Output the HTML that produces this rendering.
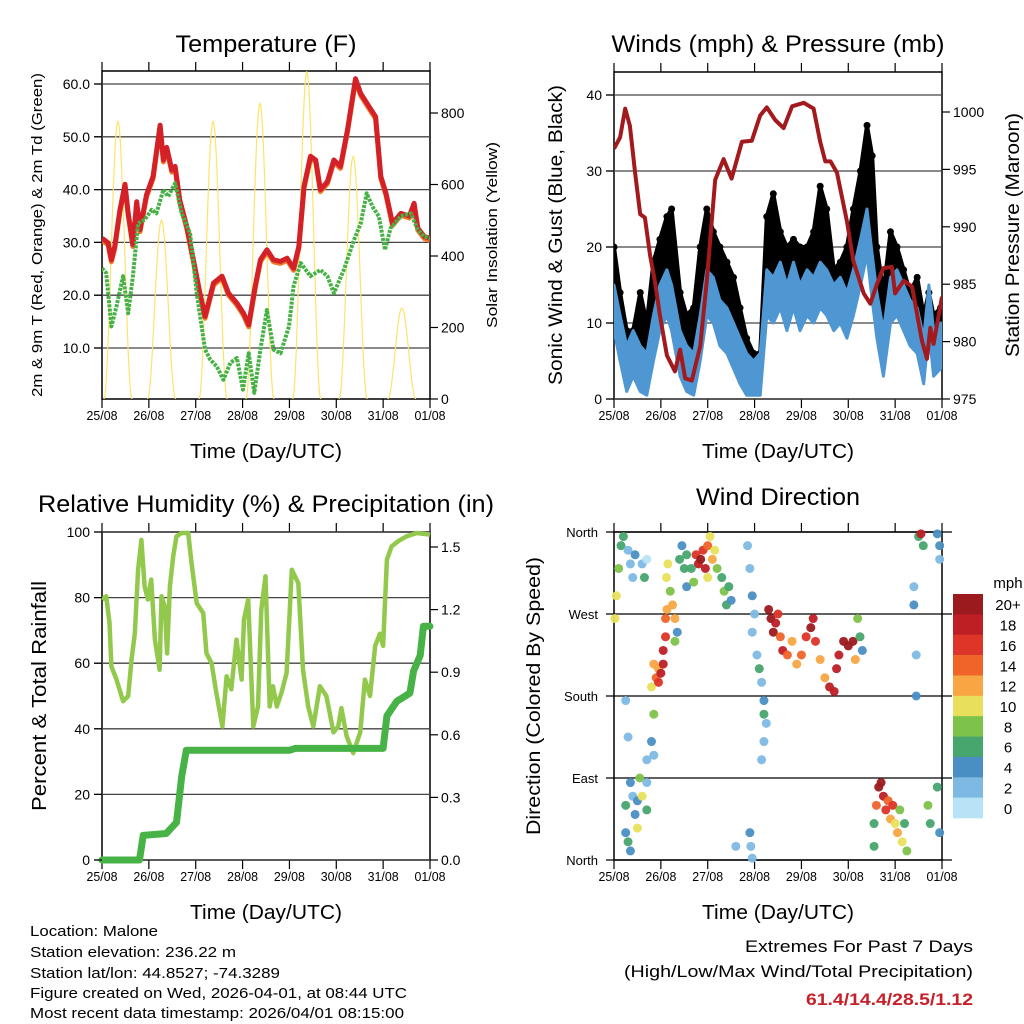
<!DOCTYPE html>
<html><head><meta charset="utf-8"><style>
html,body{margin:0;padding:0;background:#fff}
svg{display:block;font-family:"Liberation Sans",Arial,sans-serif}
</style></head><body>
<svg id="c" width="1024" height="1024" viewBox="0 0 1024 1024">
<rect width="1024" height="1024" fill="#fff"/>
<g id="layer"></g>
<text x="266" y="52" font-size="24" text-anchor="middle" textLength="181" lengthAdjust="spacingAndGlyphs">Temperature (F)</text>
<text x="778" y="52" font-size="24" text-anchor="middle" textLength="333" lengthAdjust="spacingAndGlyphs">Winds (mph) &amp; Pressure (mb)</text>
<text x="266" y="512" font-size="24" text-anchor="middle" textLength="456" lengthAdjust="spacingAndGlyphs">Relative Humidity (%) &amp; Precipitation (in)</text>
<text x="778" y="505" font-size="24" text-anchor="middle" textLength="164" lengthAdjust="spacingAndGlyphs">Wind Direction</text>
<g font-size="15">
<text x="30" y="936" textLength="128" lengthAdjust="spacingAndGlyphs">Location: Malone</text>
<text x="30" y="957" textLength="206" lengthAdjust="spacingAndGlyphs">Station elevation: 236.22 m</text>
<text x="30" y="978" textLength="250" lengthAdjust="spacingAndGlyphs">Station lat/lon: 44.8527; -74.3289</text>
<text x="30" y="998" textLength="377" lengthAdjust="spacingAndGlyphs">Figure created on Wed, 2026-04-01, at 08:44 UTC</text>
<text x="30" y="1018" textLength="374" lengthAdjust="spacingAndGlyphs">Most recent data timestamp: 2026/04/01 08:15:00</text>
</g>
<text x="973" y="952" font-size="17" text-anchor="end" textLength="228" lengthAdjust="spacingAndGlyphs">Extremes For Past 7 Days</text>
<text x="973" y="977" font-size="17" text-anchor="end" textLength="349" lengthAdjust="spacingAndGlyphs">(High/Low/Max Wind/Total Precipitation)</text>
<text x="973" y="1005" font-size="17" font-weight="bold" fill="#c8202a" text-anchor="end" textLength="167" lengthAdjust="spacingAndGlyphs">61.4/14.4/28.5/1.12</text>
</svg>
<script>
// ---------- data ----------
const dayLabels=["25/08","26/08","27/08","28/08","29/08","30/08","31/08","01/08"];
const tempDays=[0,.13,.2,.27,.38,.49,.56,.66,.74,.81,.95,1.09,1.24,1.31,1.38,1.49,1.56,1.66,1.81,1.95,2.09,2.2,2.38,2.56,2.7,2.88,3.02,3.13,3.27,3.38,3.52,3.66,3.81,3.95,4.09,4.2,4.31,4.45,4.56,4.66,4.81,4.95,5.09,5.24,5.41,5.52,5.7,5.84,5.95,6.06,6.2,6.38,6.56,6.66,6.74,6.88,7];
const tempValues=[30.8,29.9,26.7,29.2,36,41,35.5,29.6,37.7,32.4,39,42.5,52.2,45.6,48,43.7,44.4,38,33,26.7,20.4,16,22.3,23.6,20.4,18.5,16.6,14.4,21.7,26.7,28.6,26.7,26.4,27,25.1,29.2,40.6,46.3,45.6,40,41.5,45.6,44.4,51.3,61,58.2,55.7,53.8,42.5,39.3,33.6,35.5,35,37.4,32.7,31.1,30.8];
const dewDays=[0,.09,.2,.31,.45,.56,.66,.77,.91,1.06,1.16,1.31,1.41,1.56,1.7,1.88,2.02,2.2,2.31,2.45,2.59,2.74,2.88,3.01,3.13,3.25,3.38,3.52,3.66,3.81,3.99,4.09,4.24,4.45,4.66,4.81,4.95,5.16,5.38,5.52,5.65,5.77,5.91,6.04,6.16,6.38,6.59,6.74,6.88,7];
const dewValues=[25.1,24.2,14.1,17.9,23.6,16.6,23.6,33.6,34.3,36.2,35.5,40,38.7,41.2,35.5,31.7,20.4,9.7,7.8,6.5,4,7.2,8.1,2.1,9,1.5,9.7,17.2,9.7,9,14.1,21.7,26.1,23.6,24.8,23.6,20.4,24.8,30.5,33.6,39.3,36.8,34.9,28.6,32.7,35,35.5,32.4,31.1,30.8];
const solarPeakDays=[.34,1.27,2.37,3.37,4.37,5.36,6.4];
const solarPeakValues=[776,500,776,827,915,678,254];
const tempTicks=[10,20,30,40,50,60];
const solarTicks=[0,200,400,600,800];

const windDays=[0,.13,.27,.41,.56,.7,.84,.98,1.13,1.23,1.41,1.55,1.7,1.84,1.98,2.12,2.26,2.41,2.55,2.69,2.83,2.98,3.12,3.26,3.4,3.55,3.69,3.83,3.97,4.12,4.26,4.4,4.54,4.69,4.83,4.97,5.11,5.26,5.4,5.51,5.61,5.75,5.9,6.04,6.18,6.32,6.47,6.61,6.72,6.82,6.97];
const windValues=[12,8,4,6,4,3,8,12,14,12,6,4,3,8,14,13,10,9,7,5,3,2,3,14,13,15,12,15,12,14,13,15,14,12,13,11,14,18,22,16,11,6,13,14,12,10,9,5,12,6,7];
const gustValues=[20,14,9,9,14,10,18,21,24,25,14,11,12,20,25,22,20,18,16,12,8,6,6,24,27,22,20,21,20,20,22,28,25,17,18,20,25,30,36,32,20,14,22,20,17,14,16,11,14,11,12];
const pressDays=[0,.13,.24,.34,.45,.56,.66,.77,.88,.98,1.13,1.3,1.41,1.52,1.66,1.84,1.98,2.16,2.34,2.51,2.73,2.94,3.12,3.26,3.44,3.62,3.8,4.05,4.26,4.4,4.51,4.62,4.76,4.97,5.11,5.33,5.47,5.61,5.75,5.93,6,6.18,6.36,6.57,6.68,6.75,6.82,7];
const pressValues=[996.8,997.8,1000.3,998.8,994.7,991.1,990.8,987.5,985.1,982.3,978.8,977.4,979.3,976.8,976.6,979.6,985.3,994.1,995.9,994.2,997.4,997.5,999.7,1000.4,999.3,998.6,1000.5,1000.8,1000.3,997.4,995.7,995.7,994.7,990.5,987,984.2,983.3,985,986.4,986.5,984.2,985.3,984.8,980.1,978.5,981.2,979.8,983.9];
const windTicks=[0,10,20,30,40];
const pressTicks=[975,980,985,990,995,1000];

const rhDays=[0,.09,.16,.2,.31,.45,.56,.63,.7,.77,.84,.91,.98,1.05,1.13,1.23,1.27,1.34,1.39,1.45,1.52,1.59,1.7,1.84,1.91,2.02,2.16,2.23,2.34,2.44,2.57,2.66,2.76,2.87,2.98,3.03,3.12,3.23,3.33,3.4,3.49,3.58,3.65,3.73,3.83,3.94,4.05,4.19,4.29,4.4,4.51,4.65,4.79,4.94,5.04,5.11,5.22,5.36,5.51,5.61,5.72,5.83,5.93,6,6.08,6.18,6.32,6.5,6.72,7];
const rhValues=[79.4,80.4,72.3,59,55,48.4,50,61,69,88.5,97.6,83.4,79.4,85.5,67.2,58,80.4,77.3,63,83.4,92.6,98.7,99.7,99.7,90.6,78.3,75.3,63,60,51,40.7,56,52,67.2,55,73.3,79.4,40.7,46.8,76.3,86.5,46.8,53,46.8,51,57,88.5,84.4,58,46.8,40.7,53,50,38.9,40.7,46.3,37.8,32.6,38.9,55,50,65.3,69,65.3,91.6,95.6,97.2,98.7,99.7,99.2];
const rainDays=[0,.8,.88,1.37,1.59,1.7,1.8,4.01,4.12,6,6.08,6.29,6.57,6.65,6.79,6.86,7];
const rainValues=[0,0,.118,.127,.18,.4,.526,.526,.535,.535,.69,.76,.8,.906,.98,1.12,1.12];
const rhTicks=[0,20,40,60,80,100];
const rainTicks=["0.0","0.3","0.6","0.9","1.2","1.5"];

const dirDays=[.02,.05,.1,.15,.2,.3,.35,.4,.45,.6,.65,.7,.25,.25,.35,.4,.45,.5,.5,.55,.6,.7,.7,.35,.3,.25,.3,.85,.7,
.8,.85,.8,.85,.9,.95,.95,1,1.05,1.05,1.1,1.1,1.13,1.12,1.15,1.2,1.25,1.3,1.3,1.35,1.4,1.45,1.5,1.55,1.55,
1.75,1.8,1.85,1.9,1.95,2,2.05,2.1,2.15,2.2,2.3,2.35,2.4,2.45,2.5,1.65,1.7,2,
2.85,2.9,2.95,3,2.95,3.05,3.1,3.15,3.2,3.2,3.25,3.2,3.15,2.9,2.92,2.95,2.6,
3.3,3.35,3.4,3.45,3.5,3.55,3.6,3.7,3.8,3.9,4,4.1,4.2,4.25,4.3,4.4,4.5,4.6,4.7,4.75,4.8,4.9,5,5.1,5.15,5.2,5.25,5.3,
5.6,5.65,5.7,5.75,5.8,5.85,5.9,5.95,6,6.05,6.1,6.15,6.2,6.25,5.55,5.55,
6.4,6.4,6.45,6.45,6.5,6.55,6.6,6.7,6.75,6.9,6.95,6.95,6.9,6.95];
const dirValues=[265,290,320,345,355,340,325,310,335,325,310,330,30,60,85,70,50,35,65,90,70,85,55,10,20,175,135,115,110,
130,160,190,215,200,195,210,205,215,230,245,265,275,310,325,295,280,265,240,250,330,345,320,300,335,
335,325,330,340,320,345,355,330,340,320,310,295,280,300,285,320,305,310,
345,320,290,270,250,225,210,195,175,160,150,130,110,30,15,2,15,
275,265,250,260,270,245,230,225,240,215,225,245,255,265,240,220,200,190,185,210,225,240,235,240,220,265,245,230,
60,80,85,70,55,65,45,60,40,30,55,20,40,10,40,15,
300,280,225,180,355,358,345,60,40,358,345,330,80,30];
const dirSpeeds=[11,10,8,7,6,3,3,3,4,3,6,1,4,6,4,3,5,11,4,8,10,3,7,4,6,2,2,3,2,
4,8,10,12,14,16,12,18,18,18,16,14,12,10,10,8,12,12,8,4,6,4,6,5,7,
16,18,20,16,18,14,10,12,10,8,7,8,6,6,4,6,9,10,
3,3,4,3,2,2,6,3,4,6,2,3,2,4,2,3,3,
20,20,20,18,16,14,18,14,12,12,14,16,20,18,16,12,12,18,18,18,18,20,20,20,12,8,6,4,
14,20,20,18,16,14,12,16,10,12,8,10,6,8,6,6,
2,4,2,4,6,18,6,8,6,4,4,2,6,4];
const dirLabels=["North","East","South","West","North"];
const speedLabels=["20+","18","16","14","12","10","8","6","4","2","0"];
const speedColors=["#9b1a1e","#bd1f25","#dd3528","#f06429","#f7a643","#e8e05a","#7dc24b","#47a56e","#4a8fc4","#7eb9e3","#b8e2f6"];

// ---------- helpers ----------
const NS="http://www.w3.org/2000/svg";
const layer=document.getElementById('layer');
function mk(tag,attrs,parent){const e=document.createElementNS(NS,tag);for(const k in attrs)e.setAttribute(k,attrs[k]);(parent||layer).appendChild(e);return e;}
function txt(s,attrs,parent){const e=mk('text',attrs,parent);e.textContent=s;return e;}
function pathFrom(xs,ys){return xs.map((x,i)=>(i?'L':'M')+x.toFixed(1)+' '+ys[i].toFixed(1)).join('');}

function frame(L,R,T,B,name){
  const g=mk('g',{});
  
  
  mk('rect',{x:L,y:T,width:R-L,height:B-T,fill:'none',stroke:'#000','stroke-width':1.5},g);
  for(let i=0;i<=7;i++){
    const x=L+i*(R-L)/7;
    mk('line',{x1:x,x2:x,y1:T-9,y2:T,stroke:'#000','stroke-width':1.2},g);
    mk('line',{x1:x,x2:x,y1:B,y2:B+9,stroke:'#000','stroke-width':1.2},g);
    const t=txt(dayLabels[i],{x:x,y:B+21,'font-size':13,'text-anchor':'middle',textLength:31,lengthAdjust:'spacingAndGlyphs'},g);
    
    
  }
  const xt=txt('Time (Day/UTC)',{x:(L+R)/2,y:B+59,'font-size':20,'text-anchor':'middle',textLength:152,lengthAdjust:'spacingAndGlyphs'},g);
  
  
  return g;
}
function gridY(g,L,R,y){
  mk('line',{x1:L-8,x2:R,y1:y,y2:y,stroke:'#444','stroke-width':1.3},g);
}
function leftTicks(g,L,ys,labels,fs){
  ys.forEach((y,i)=>{
    mk('line',{x1:L-8,x2:L,y1:y,y2:y,stroke:'#000','stroke-width':1.2},g);
    const t=txt(labels[i],{x:L-12,y:y+5,'font-size':fs||14,'text-anchor':'end'},g);
    
    
  });
}
function rightTicks(g,R,ys,labels){
  ys.forEach((y,i)=>{
    mk('line',{x1:R,x2:R+8,y1:y,y2:y,stroke:'#000','stroke-width':1.2},g);
    const t=txt(labels[i],{x:R+11,y:y+5,'font-size':14,'text-anchor':'start'},g);
    
    
  });
}
function vtitle(g,s,x,y,fs,len,name){
  const t=txt(s,{x:0,y:0,'font-size':fs,'text-anchor':'middle',transform:`translate(${x},${y}) rotate(-90)`,textLength:len,lengthAdjust:'spacingAndGlyphs'},g);
  
  
}

// ---------- Panel 1: temperature ----------
(function(){
  const L=102,R=430,T=71,B=399;
  const x=d=>L+d/7*(R-L);
  const yT=v=>348-(v-10)*5.28;
  const yS=v=>B-v*0.3575;
  const clip=mk('clipPath',{id:'c1'});mk('rect',{x:L,y:T,width:R-L,height:B-T},clip);
  const g=frame(L,R,T,B,'temperature');
  tempTicks.forEach(v=>gridY(g,L,R,yT(v)));
  const d=mk('g',{'clip-path':'url(#c1)'},g);
  solarPeakDays.forEach((pd,i)=>{
    const xs=[],ys=[];
    for(let k=0;k<=40;k++){const dd=pd-0.3+k*0.015;const s=Math.cos((dd-pd)/0.3*Math.PI/2);xs.push(x(dd));ys.push(yS(solarPeakValues[i]*s*s));}
    const p=mk('path',{d:pathFrom(xs,ys),fill:'none',stroke:'#fde36a','stroke-width':1.2},d);
    
    
  });
  const xsT=tempDays.map(x),ysT=tempValues.map(yT);
  const o=mk('path',{d:pathFrom(xsT,ysT.map(v=>v+2)),fill:'none',stroke:'#f07a2a','stroke-width':5,'stroke-linejoin':'round'},d);
  
  
  const r=mk('path',{d:pathFrom(xsT,ysT),fill:'none',stroke:'#d42027','stroke-width':5,'stroke-linejoin':'round'},d);
  
  
  const gr=mk('path',{d:pathFrom(dewDays.map(x),dewValues.map(yT)),fill:'none',stroke:'#46b246','stroke-width':4,'stroke-dasharray':'3 1.2','stroke-linejoin':'round'},d);
  
  
  leftTicks(g,L,tempTicks.map(yT),tempTicks.map(v=>v.toFixed(1)),14);
  rightTicks(g,R,solarTicks.map(yS),solarTicks.map(String));
  vtitle(g,'2m & 9m T (Red, Orange) & 2m Td (Green)',42,235,15,324,'temperature-y-axis-title');
  vtitle(g,'Solar Insolation (Yellow)',497,235,15,186,'solar-y-axis-title');
})();

// ---------- Panel 2: winds ----------
(function(){
  const L=614,R=942,T=72,B=399;
  const x=d=>L+d/7*(R-L);
  const yW=v=>B-v*7.6;
  const yP=v=>B-(v-975)*11.48;
  const clip=mk('clipPath',{id:'c2'});mk('rect',{x:L,y:T,width:R-L,height:B-T},clip);
  const g=frame(L,R,T,B,'winds');
  windTicks.forEach(v=>gridY(g,L,R,yW(v)));
  const d=mk('g',{'clip-path':'url(#c2)'},g);
  const xs=windDays.map(x);
  const gustTop=gustValues.map(yW), windMid=windValues.map(yW);
  const area='M'+xs.map((xx,i)=>xx.toFixed(1)+' '+gustTop[i].toFixed(1)).join('L')+'L'+xs.slice().reverse().map((xx,j)=>{const i=xs.length-1-j;return xx.toFixed(1)+' '+windMid[i].toFixed(1);}).join('L')+'Z';
  const ga=mk('path',{d:area,fill:'#000',stroke:'#000','stroke-width':4,'stroke-linejoin':'round'},d);
  
  
  gustValues.forEach((v,i)=>{const c=mk('circle',{cx:xs[i],cy:yW(v),r:3.5,fill:'#000'},d);
    
    });
  const bandTop=windValues.map(v=>yW(v+3)),bandBot=windValues.map(v=>yW(Math.max(v-3,0.5)));
  const band='M'+xs.map((xx,i)=>xx.toFixed(1)+' '+bandTop[i].toFixed(1)).join('L')+'L'+xs.slice().reverse().map((xx,j)=>{const i=xs.length-1-j;return xx.toFixed(1)+' '+bandBot[i].toFixed(1);}).join('L')+'Z';
  const wb=mk('path',{d:band,fill:'#4f97d2',stroke:'#4f97d2','stroke-width':3,'stroke-linejoin':'round'},d);
  
  
  const p=mk('path',{d:pathFrom(pressDays.map(x),pressValues.map(yP)),fill:'none',stroke:'#a31a1e','stroke-width':4,'stroke-linejoin':'round'},d);
  
  
  leftTicks(g,L,windTicks.map(yW),windTicks.map(String),14);
  rightTicks(g,R,pressTicks.map(yP),pressTicks.map(String));
  vtitle(g,'Sonic Wind & Gust (Blue, Black)',562,235,19,300,'wind-y-axis-title');
  vtitle(g,'Station Pressure (Maroon)',1019,235,19,244,'pressure-y-axis-title');
})();

// ---------- Panel 3: humidity ----------
(function(){
  const L=102,R=430,T=532,B=860;
  const x=d=>L+d/7*(R-L);
  const yR=v=>B-v*3.28;
  const yP=v=>B-v/0.3*62.6;
  const clip=mk('clipPath',{id:'c3'});mk('rect',{x:L-8,y:T-6,width:R-L+16,height:B-T+14},clip);
  const g=frame(L,R,T,B,'humidity');
  rhTicks.forEach(v=>gridY(g,L,R,yR(v)));
  const d=mk('g',{'clip-path':'url(#c3)'},g);
  const rh=mk('path',{d:pathFrom(rhDays.map(x),rhValues.map(yR)),fill:'none',stroke:'#92c94d','stroke-width':4.5,'stroke-linejoin':'round'},d);
  
  
  const pr=mk('path',{d:pathFrom(rainDays.map(x),rainValues.map(yP)),fill:'none',stroke:'#47b347','stroke-width':7,'stroke-linejoin':'round','stroke-linecap':'round'},d);
  
  
  leftTicks(g,L,rhTicks.map(yR),rhTicks.map(String),14);
  rightTicks(g,R,rainTicks.map(v=>yP(parseFloat(v))),rainTicks);
  vtitle(g,'Percent & Total Rainfall',46,696,20,230,'humidity-y-axis-title');
})();

// ---------- Panel 4: wind direction ----------
(function(){
  const L=614,R=942,T=532,B=860;
  const x=d=>L+d/7*(R-L);
  const yD=v=>B-v/360*(B-T);
  const g=frame(L,R,T,B,'wind-direction');
  [0,90,180,270,360].forEach(v=>mk('line',{x1:L-8,x2:R+10,y1:yD(v),y2:yD(v),stroke:'#000','stroke-width':1.2},g));
  const clip=mk('clipPath',{id:'c4'});mk('rect',{x:L-4,y:T-4,width:R-L+8,height:B-T+8},clip);
  const d=mk('g',{'clip-path':'url(#c4)'},g);
  const col=s=>speedColors[10-Math.min(10,Math.floor(s/2))];
  dirDays.forEach((dd,i)=>{
    const c=mk('circle',{cx:x(dd),cy:yD(dirValues[i]),r:4.5,fill:col(dirSpeeds[i]),'fill-opacity':0.95},d);
    
    
  });
  [0,90,180,270,360].forEach((v,i)=>{
    const t=txt(dirLabels[i],{x:L-16,y:yD(v)+5,'font-size':13,'text-anchor':'end'},g);
    
    
  });
  vtitle(g,'Direction (Colored By Speed)',540,696,19,278,'direction-y-axis-title');
  const cb=mk('g',{});
  
  
  const h=224/11;
  speedColors.forEach((c,i)=>{
    const r=mk('rect',{x:953,y:594+i*h,width:30,height:h+0.3,fill:c},cb);
    
    
    const t=txt(speedLabels[i],{x:1008,y:594+i*h+h/2+6,'font-size':15,'text-anchor':'middle'},cb);
    
    
  });
  const u=txt('mph',{x:1008,y:588,'font-size':15,'text-anchor':'middle'},cb);
  
  
})();
</script>
</body></html>
